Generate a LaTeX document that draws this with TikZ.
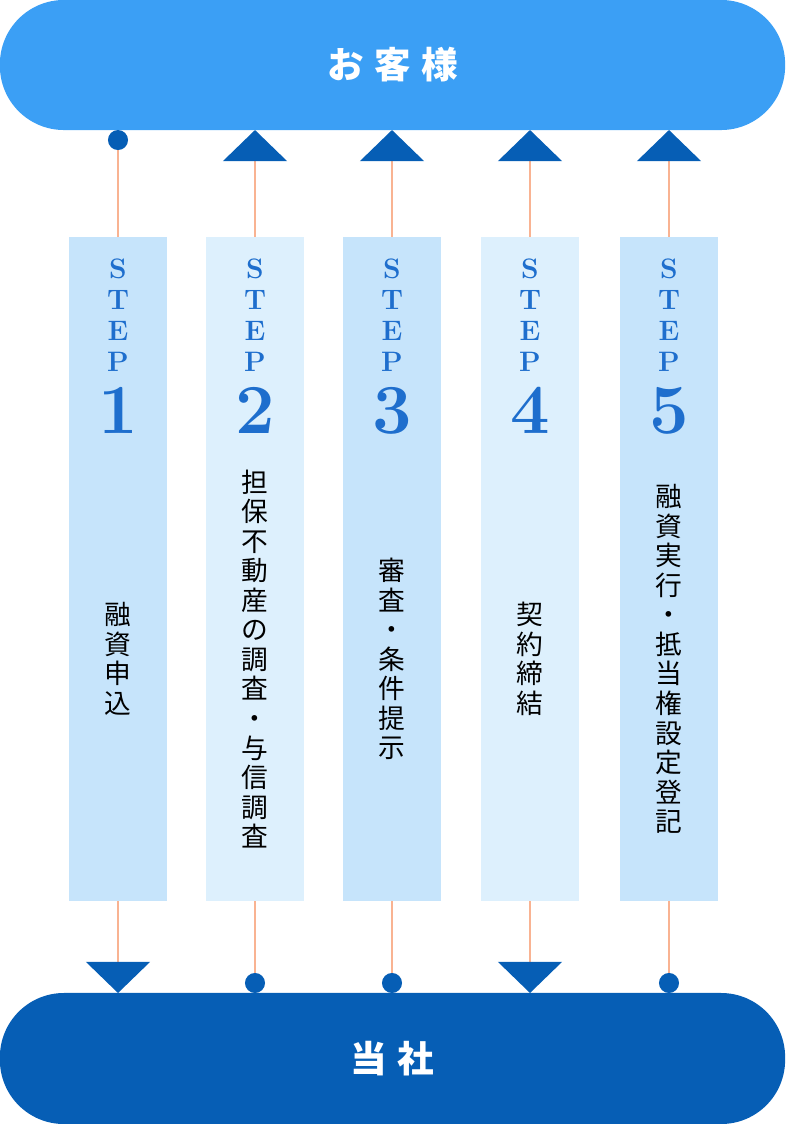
\documentclass[tikz,border=0pt]{standalone}
\usepackage{fontspec}
\usetikzlibrary{arrows.meta}
\newfontfamily\jp{Noto Sans CJK JP}
\definecolor{custblue}{RGB}{59,159,245}
\definecolor{compblue}{RGB}{6,94,181}
\definecolor{colA}{RGB}{198,228,251}
\definecolor{colB}{RGB}{221,240,253}
\definecolor{linkc}{RGB}{249,179,146}
\definecolor{steptxt}{RGB}{30,110,205}
\tikzset{
    bar/.style={rounded corners=1.6cm, minimum width=19.625cm, minimum height=3.25cm, inner sep=0pt, outer sep=0pt, text=white, font=\jp\bfseries\fontsize{26}{26}\selectfont},
    stepcol/.style={minimum width=2.45cm, minimum height=16.6cm, inner sep=0pt, outer sep=0pt},
    steplbl/.style={text=steptxt, align=center, inner sep=0pt, font=\bfseries\fontsize{20}{22}\selectfont},
    stepnum/.style={text=steptxt, inner sep=0pt, font=\bfseries\fontsize{50}{50}\selectfont},
    task/.style={align=center, inner sep=0pt, font=\jp\fontsize{19}{21}\selectfont},
    link/.style={draw=linkc, line width=1.4pt},
    tri/.tip={Triangle[width=1.6cm, length=0.78cm, color=compblue]},
    dotend/.tip={Circle[length=0.5cm, color=compblue]}
}
\begin{document}
\begin{tikzpicture}[x=0.025cm, y=-0.025cm]
    \useasboundingbox (0,0) rectangle (785,1124);

    % both parties
    \node[bar, fill=custblue] (client) at (392.5,65) {お\hspace{0.26cm}客\hspace{0.26cm}様};
    \node[bar, fill=compblue, minimum height=3.275cm] (company) at (392.5,1058.5) {当\hspace{0.26cm}社};

    % steps
    \node[stepcol, fill=colA] (s1) at (118,569) {};
    \node[stepcol, fill=colB] (s2) at (255,569) {};
    \node[stepcol, fill=colA] (s3) at (392,569) {};
    \node[stepcol, fill=colB] (s4) at (530,569) {};
    \node[stepcol, fill=colA] (s5) at (669,569) {};

    \node[steplbl] (l1) at (118,315) {S\\T\\E\\P};
    \node[steplbl] (l2) at (255,315) {S\\T\\E\\P};
    \node[steplbl] (l3) at (392,315) {S\\T\\E\\P};
    \node[steplbl] (l4) at (530,315) {S\\T\\E\\P};
    \node[steplbl] (l5) at (669,315) {S\\T\\E\\P};

    \node[stepnum, anchor=base] (n1) at (118,433) {1};
    \node[stepnum, anchor=base] (n2) at (255,433) {2};
    \node[stepnum, anchor=base] (n3) at (392,433) {3};
    \node[stepnum, anchor=base] (n4) at (530,433) {4};
    \node[stepnum, anchor=base] (n5) at (669,433) {5};

    \node[task] (t1) at (118,659) {融\\資\\申\\込};
    \node[task] (t2) at (255,659) {担\\保\\不\\動\\産\\の\\調\\査\\・\\与\\信\\調\\査};
    \node[task] (t3) at (392,659) {審\\査\\・\\条\\件\\提\\示};
    \node[task] (t4) at (530,659) {契\\約\\締\\結};
    \node[task] (t5) at (669,659) {融\\資\\実\\行\\・\\抵\\当\\権\\設\\定\\登\\記};

    % links
    \draw[link, dotend-] (s1.north |- client.south) -- (s1.north);
    \draw[link, -tri] (s1.south) -- (s1.south |- company.north);
    \draw[link, -tri] (s2.north) -- (s2.north |- client.south);
    \draw[link, -dotend] (s2.south) -- (s2.south |- company.north);
    \draw[link, -tri] (s3.north) -- (s3.north |- client.south);
    \draw[link, -dotend] (s3.south) -- (s3.south |- company.north);
    \draw[link, -tri] (s4.north) -- (s4.north |- client.south);
    \draw[link, -tri] (s4.south) -- (s4.south |- company.north);
    \draw[link, -tri] (s5.north) -- (s5.north |- client.south);
    \draw[link, -dotend] (s5.south) -- (s5.south |- company.north);
\end{tikzpicture}
\end{document}
